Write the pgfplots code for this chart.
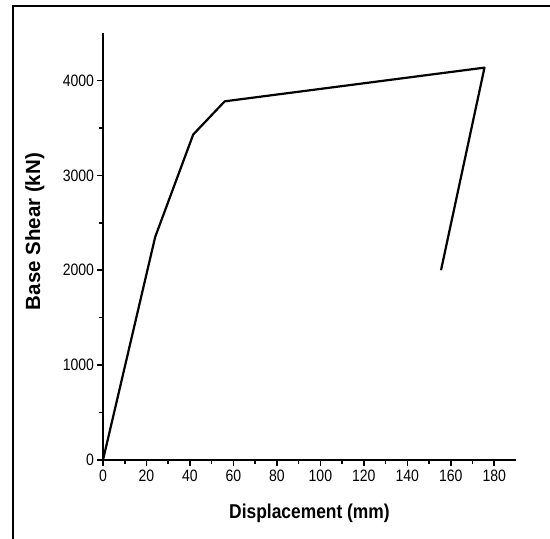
\documentclass[border=0pt]{standalone}
\usepackage{fontspec}
\setmainfont{Liberation Sans}
\usepackage{pgfplots}
\pgfplotsset{compat=1.18}
\begin{document}
\begin{tikzpicture}[x=1pt,y=1pt]
\useasboundingbox (0,0) rectangle (550,539);
\draw[line width=1.5pt] (13,-2) -- (13,533) -- (552,533);
\begin{axis}[
  at={(103pt,79pt)}, anchor=south west,
  scale only axis, width=413pt, height=427pt,
  xmin=0, xmax=190, ymin=0, ymax=4500,
  axis lines=left, axis line style={line width=1.6pt,-},
  tick align=outside,
  xtick={0,20,...,180}, ytick={0,1000,...,4000},
  minor x tick num=1, minor y tick num=1,
  major tick length=6pt, minor tick length=4pt,
  every tick/.style={line width=1.6pt, black},
  tick label style={font=\fontsize{16.5}{16.5}\selectfont, xscale=0.85},
  /pgf/number format/assume math mode=true,
  /pgf/number format/1000 sep={},
  xlabel={Displacement (mm)}, ylabel={Base Shear (kN)},
  xlabel style={font=\fontsize{20}{20}\selectfont\bfseries, xscale=0.87,
    at={(axis description cs:0.5,-0.124)}, anchor=center},
  ylabel style={font=\fontsize{20.5}{20.5}\selectfont\bfseries,
    at={(axis description cs:-0.165,0.535)}, anchor=center},
  clip=false,
]
\addplot[black, line width=2.2pt, line join=round] coordinates {
  (0,0) (24,2350) (41.5,3430) (56,3780) (175.5,4135) (155.5,2000)
};
\end{axis}
\end{tikzpicture}
\end{document}
